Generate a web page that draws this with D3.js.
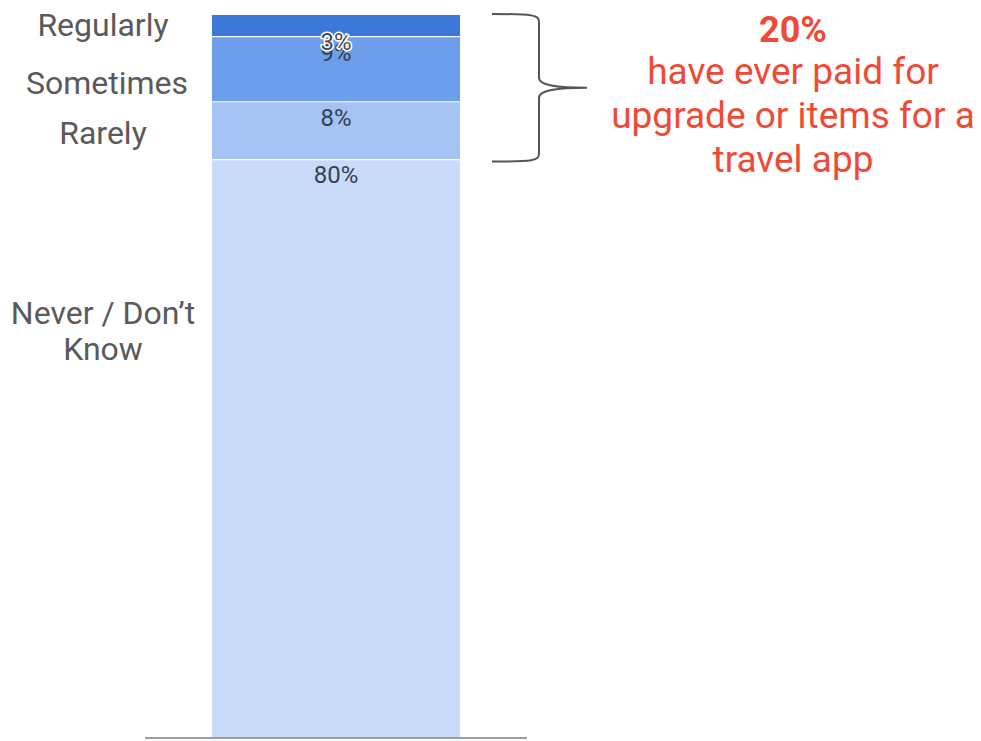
<!DOCTYPE html>
<html>
<head>
<meta charset="utf-8">
<script src="https://cdn.jsdelivr.net/npm/d3@7"></script>
<style>
  html, body { margin: 0; padding: 0; background: #fff; }
  svg { display: block; }
  text { font-family: Roboto, "Noto Sans", sans-serif; }
</style>
</head>
<body>
<svg id="chart" width="981" height="741"></svg>
<script>
// Data (bottom to top)
const categories = ["Never / Don\u2019t Know", "Rarely", "Sometimes", "Regularly"];
const values = [80, 8, 9, 3];
const valueLabels = ["80%", "8%", "9%", "3%"];
const colors = ["#c9daf8", "#a4c2f4", "#6d9eeb", "#3c78d8"];
const annotationHeadline = "20%";
const annotationLines = ["have ever paid for", "upgrade or items for a", "travel app"];

const svg = d3.select("#chart");

const x = d3.scaleBand().domain(["All"]).range([145, 527]).paddingInner(0).paddingOuter(0.27);
const y = d3.scaleLinear().domain([0, 100]).range([738, 15]);

// cumulative stacking
const stackRow = {};
categories.forEach((c, i) => stackRow[c] = values[i]);
const stacked = d3.stack().keys(categories)([stackRow]);

const bx = x("All"), bw = x.bandwidth();

// bars
svg.append("g").selectAll("rect")
  .data(stacked)
  .join("rect")
  .attr("x", bx)
  .attr("width", bw)
  .attr("y", d => y(d[0][1]))
  .attr("height", d => y(d[0][0]) - y(d[0][1]))
  .attr("fill", (d, i) => colors[i]);

// white separators
svg.append("g").selectAll("line")
  .data(stacked.slice(0, -1))
  .join("line")
  .attr("x1", bx).attr("x2", bx + bw)
  .attr("y1", d => y(d[0][1])).attr("y2", d => y(d[0][1]))
  .attr("stroke", "#ffffff").attr("stroke-width", 1.2);

// value labels (near top of each segment)
const labelOffsets = [23, 24, 24, 35];
const lg = svg.append("g");
stacked.forEach((d, i) => {
  const t = lg.append("text")
    .attr("x", bx + bw / 2)
    .attr("y", y(d[0][1]) + labelOffsets[i])
    .attr("text-anchor", "middle")
    .attr("font-family", "'Liberation Sans', Arial, sans-serif")
    .attr("font-size", 24)
    .attr("fill", "#37404f")
    .text(valueLabels[i]);
  if (i === 3) {
    t.attr("stroke", "#ffffff").attr("stroke-width", 3).attr("paint-order", "stroke")
     .attr("fill", "#4a4a4a");
  }
});

// axis baseline
svg.append("line")
  .attr("x1", 145).attr("x2", 527)
  .attr("y1", 738).attr("y2", 738)
  .attr("stroke", "#9e9e9e").attr("stroke-width", 2);

// category labels on the left
const catPos = [
  { lines: ["Never / Don\u2019t", "Know"], ys: [324, 360], cx: 103 },
  { lines: ["Rarely"], ys: [144], cx: 103 },
  { lines: ["Sometimes"], ys: [94], cx: 107 },
  { lines: ["Regularly"], ys: [36], cx: 103 }
];
const cg = svg.append("g");
categories.forEach((c, i) => {
  catPos[i].lines.forEach((ln, j) => {
    cg.append("text")
      .attr("x", catPos[i].cx)
      .attr("y", catPos[i].ys[j])
      .attr("text-anchor", "middle")
      .attr("font-size", 32)
      .attr("fill", "#5a5a5a")
      .text(ln);
  });
});

// brace spanning the 20% (top three segments)
const bTop = y(100) - 1, bBot = y(values[0]) + 2, bMid = (bTop + bBot) / 2;
const x0 = 492, xv = 539, xt = 587;
const brace = d3.path();
brace.moveTo(x0, bTop);
brace.bezierCurveTo(xv - 5, bTop, xv, bTop + 1, xv, bTop + 8);
brace.lineTo(xv, bMid - 10);
brace.bezierCurveTo(xv, bMid - 2, xv + 20, bMid, xt, bMid);
brace.bezierCurveTo(xv + 20, bMid, xv, bMid + 2, xv, bMid + 10);
brace.lineTo(xv, bBot - 8);
brace.bezierCurveTo(xv, bBot - 1, xv - 5, bBot, x0, bBot);
svg.append("path")
  .attr("d", brace.toString())
  .attr("fill", "none")
  .attr("stroke", "#555555")
  .attr("stroke-width", 2);

// annotation
const ag = svg.append("g").attr("fill", "#f04a37");
ag.append("text")
  .attr("x", 793).attr("y", 42)
  .attr("text-anchor", "middle")
  .attr("font-size", 36)
  .attr("font-weight", "bold")
  .text(annotationHeadline);
annotationLines.forEach((ln, i) => {
  ag.append("text")
    .attr("x", 793).attr("y", 84 + i * 44)
    .attr("text-anchor", "middle")
    .attr("font-size", 37)
    .text(ln);
});
</script>
</body>
</html>
